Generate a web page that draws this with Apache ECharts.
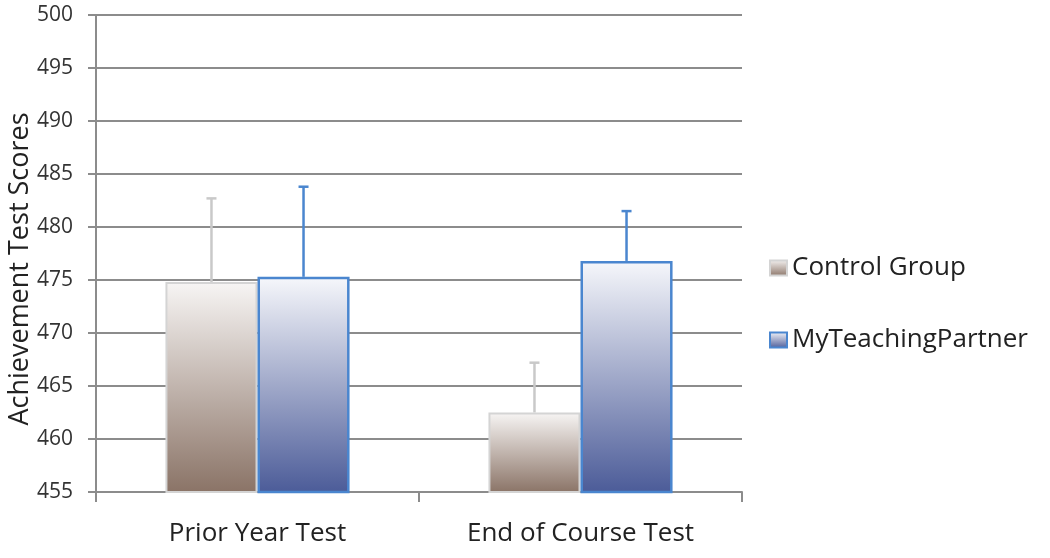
<!DOCTYPE html>
<html>
<head>
<meta charset="utf-8">
<script src="https://cdn.jsdelivr.net/npm/echarts@6/dist/echarts.min.js"></script>
<style>
html,body{margin:0;padding:0;background:#fff;}
#chart{width:1050px;height:558px;}
</style>
</head>
<body>
<div id="chart"></div>
<script>
var categories = ['Prior Year Test', 'End of Course Test'];
var seriesNames = ['Control Group', 'MyTeachingPartner'];
var controlValues = [474.8, 462.5];
var controlErrorTop = [482.7, 467.2];
var mtpValues = [475.3, 476.8];
var mtpErrorTop = [483.8, 481.5];
var yTicks = [455, 460, 465, 470, 475, 480, 485, 490, 495, 500];
var yAxisTitle = 'Achievement Test Scores';

var FONT = 'Open Sans';
var CAT_GAP = 0.43;

var chart = echarts.init(document.getElementById('chart'));

var ctrlGrad = new echarts.graphic.LinearGradient(0, 0, 0, 1, [
  {offset: 0, color: '#f7f5f4'},
  {offset: 1, color: '#8a7366'}
]);
var mtpGrad = new echarts.graphic.LinearGradient(0, 0, 0, 1, [
  {offset: 0, color: '#f6f7fb'},
  {offset: 1, color: '#4b5b98'}
]);

function errorSeries(values, tops, idx, color) {
  var data = categories.map(function (c, i) { return [i, values[i], tops[i]]; });
  return {
    type: 'custom',
    name: seriesNames[idx] + ' error',
    z: 1,
    silent: true,
    data: data,
    renderItem: function (params, api) {
      var band = api.size([1, 0])[0];
      var bw = band * (1 - CAT_GAP) / 2;
      var base = api.coord([api.value(0), api.value(1)]);
      var top = api.coord([api.value(0), api.value(2)]);
      var cx = base[0] + (idx === 0 ? -bw / 2 : bw / 2);
      var half = 5;
      return {
        type: 'group',
        children: [
          {type: 'line', shape: {x1: cx, y1: base[1], x2: cx, y2: top[1]},
           style: {stroke: color, lineWidth: 2.5}},
          {type: 'line', shape: {x1: cx - half, y1: top[1], x2: cx + half, y2: top[1]},
           style: {stroke: color, lineWidth: 2.5}}
        ]
      };
    }
  };
}

chart.setOption({
  animation: false,
  textStyle: {fontFamily: FONT},
  grid: {left: 96, right: 308, top: 15, bottom: 66},
  graphic: [{
    type: 'text',
    x: 20,
    y: 269,
    rotation: Math.PI / 2,
    style: {
      text: yAxisTitle,
      fontFamily: FONT,
      fontSize: 27,
      fill: '#222',
      textAlign: 'center',
      textVerticalAlign: 'middle'
    }
  }],
  legend: {
    orient: 'vertical',
    left: 764,
    top: 250,
    icon: 'rect',
    itemWidth: 17,
    itemHeight: 15,
    itemGap: 46,
    data: seriesNames,
    textStyle: {fontFamily: FONT, fontSize: 26, color: '#222'}
  },
  xAxis: {
    type: 'category',
    data: categories,
    axisLine: {lineStyle: {color: '#8c8c8c', width: 2}},
    axisTick: {show: true, length: 10, lineStyle: {color: '#8c8c8c', width: 2}},
    axisLabel: {fontFamily: FONT, fontSize: 26, color: '#222', margin: 29}
  },
  yAxis: {
    type: 'value',
    min: 455,
    max: 500,
    interval: 5,
    axisLine: {show: true, lineStyle: {color: '#8c8c8c', width: 2}},
    axisTick: {show: true, length: 8, lineStyle: {color: '#8c8c8c', width: 2}},
    axisLabel: {fontFamily: FONT, fontSize: 21, color: '#333', margin: 23,
      formatter: function (v) { return yTicks.indexOf(v) >= 0 ? String(v) : ''; }},
    splitLine: {lineStyle: {color: '#8c8c8c', width: 2}}
  },
  series: [
    errorSeries(controlValues, controlErrorTop, 0, '#c9c9c9'),
    errorSeries(mtpValues, mtpErrorTop, 1, '#4a86cf'),
    {
      type: 'bar',
      name: seriesNames[0],
      z: 2,
      data: controlValues,
      barGap: '0%',
      barCategoryGap: (CAT_GAP * 100) + '%',
      itemStyle: {color: ctrlGrad, borderColor: '#d4d4d4', borderWidth: 2}
    },
    {
      type: 'bar',
      name: seriesNames[1],
      z: 2,
      data: mtpValues,
      barGap: '0%',
      barCategoryGap: (CAT_GAP * 100) + '%',
      itemStyle: {color: mtpGrad, borderColor: '#4a86cf', borderWidth: 2.5}
    }
  ]
});
</script>
</body>
</html>
